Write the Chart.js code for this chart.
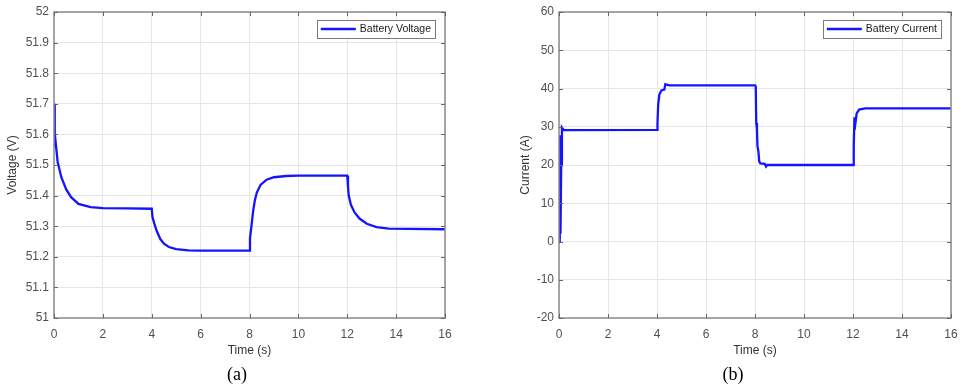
<!DOCTYPE html>
<html>
<head>
<meta charset="utf-8">
<script src="https://cdn.jsdelivr.net/npm/chart.js@4.4.1/dist/chart.umd.min.js"></script>
<style>
  body { margin: 0; background: #fff; width: 963px; height: 391px; position: relative; overflow: hidden; }
  .box { position: absolute; top: 0; height: 391px; }
  .cap { position: absolute; top: 364px; font: 18px "Liberation Serif", "DejaVu Serif", serif; color: #000; transform: translateX(-50%); }
</style>
</head>
<body>
<div class="box" style="left:0;width:480px"><canvas id="voltChart"></canvas></div>
<div class="box" style="left:500px;width:463px"><canvas id="currChart"></canvas></div>
<div class="cap" style="left:237px">(a)</div>
<div class="cap" style="left:733px">(b)</div>
<script>
// 時間軸と値
const timeTicks = [0, 2, 4, 6, 8, 10, 12, 14, 16];

const voltTime = [0, 0.03, 0.06, 0.15, 0.3, 0.5, 0.7, 1.0, 1.5, 2, 3, 4.0,
  4.03, 4.1, 4.2, 4.35, 4.5, 4.7, 5.0, 5.5, 6, 7, 8.0,
  8.02, 8.08, 8.15, 8.22, 8.3, 8.45, 8.7, 9.0, 9.5, 10, 12.0,
  12.03, 12.06, 12.15, 12.3, 12.5, 12.8, 13.2, 13.7, 14.5, 16];
const voltValues = [51.70, 51.56, 51.58, 51.51, 51.46, 51.42, 51.395, 51.373, 51.362, 51.359, 51.358, 51.357,
  51.33, 51.31, 51.285, 51.258, 51.243, 51.232, 51.225, 51.221, 51.22, 51.22, 51.22,
  51.26, 51.30, 51.35, 51.385, 51.41, 51.435, 51.452, 51.46, 51.464, 51.465, 51.465,
  51.43, 51.40, 51.37, 51.345, 51.325, 51.308, 51.297, 51.292, 51.291, 51.29];

const currTime = [0, 0.03, 0.06, 0.09, 0.12, 0.2, 4.0,
  4.02, 4.05, 4.1, 4.18, 4.3, 4.34, 4.5, 8.0,
  8.03, 8.05, 8.08, 8.1, 8.14, 8.17, 8.22, 8.4, 8.45, 8.5, 12.0,
  12.03, 12.06, 12.1, 12.15, 12.25, 12.5, 16];
const currValues = [0, 27.8, 2, 20, 29.8, 29.1, 29.2,
  31, 36, 38.5, 39.5, 39.7, 41.1, 40.8, 40.8,
  40.7, 31, 29.5, 25, 23.5, 21, 20.4, 20.3, 19.6, 20, 20,
  25, 32.5, 31, 33.5, 34.5, 34.8, 34.8];

const voltTicks = [51, 51.1, 51.2, 51.3, 51.4, 51.5, 51.6, 51.7, 51.8, 51.9, 52];
const currTicks = [-20, -10, 0, 10, 20, 30, 40, 50, 60];

const tickFont = { family: "'Liberation Sans', Arial, sans-serif", size: 12 };
const tickColor = "#505050";

// 枠・内向きの目盛り・凡例を描くプラグイン
const framePlugin = {
  id: "frame",
  afterDraw(chart) {
    const { ctx, chartArea: a, scales } = chart;
    ctx.save();
    ctx.strokeStyle = "#8c8c8c";
    ctx.lineWidth = 1.5;
    ctx.strokeRect(a.left, a.top, a.right - a.left, a.bottom - a.top);
    ctx.lineWidth = 1;
    ctx.strokeStyle = "#666";
    ctx.beginPath();
    scales.x.ticks.forEach((t) => {
      const px = Math.round(scales.x.getPixelForValue(t.value)) + 0.5;
      ctx.moveTo(px, a.bottom); ctx.lineTo(px, a.bottom - 4);
      ctx.moveTo(px, a.top); ctx.lineTo(px, a.top + 4);
    });
    scales.y.ticks.forEach((t) => {
      const py = Math.round(scales.y.getPixelForValue(t.value)) + 0.5;
      ctx.moveTo(a.left, py); ctx.lineTo(a.left + 4, py);
      ctx.moveTo(a.right, py); ctx.lineTo(a.right - 4, py);
    });
    ctx.stroke();

    // 凡例
    const label = chart.data.datasets[0].label;
    ctx.font = "10.5px 'Liberation Sans', Arial, sans-serif";
    const tw = ctx.measureText(label).width;
    const w = 4 + 35 + 4 + tw + 4;
    const h = 18;
    const x = a.right - 10 - w;
    const y = a.top + 8;
    ctx.fillStyle = "#fff";
    ctx.fillRect(x, y, w, h);
    ctx.strokeStyle = "#7a7a7a";
    ctx.lineWidth = 1;
    ctx.strokeRect(Math.round(x) + 0.5, Math.round(y) + 0.5, Math.round(w), h);
    ctx.strokeStyle = chart.data.datasets[0].borderColor;
    ctx.lineWidth = 2.3;
    ctx.beginPath();
    ctx.moveTo(x + 4, y + h / 2); ctx.lineTo(x + 39, y + h / 2);
    ctx.stroke();
    ctx.fillStyle = "#1a1a1a";
    ctx.textBaseline = "middle";
    ctx.fillText(label, x + 43, y + h / 2 + 0.5);
    ctx.restore();
  },
};

function makeChart(id, times, values, label, yMin, yMax, yTickList, yTitle, yWidth, titlePad, rightPad) {
  const ctx = document.getElementById(id).getContext("2d");
  return new Chart(ctx, {
    type: "line",
    data: {
      datasets: [{
        label: label,
        data: times.map((t, i) => ({ x: t, y: values[i] })),
        borderColor: "#1414ff",
        borderWidth: 2.3,
        pointRadius: 0,
        tension: 0,
        fill: false,
      }],
    },
    options: {
      responsive: true,
      maintainAspectRatio: false,
      animation: false,
      layout: { padding: { top: 12, right: rightPad, bottom: 33, left: 0 } },
      plugins: { legend: { display: false }, tooltip: { enabled: false } },
      scales: {
        x: {
          type: "linear",
          min: 0, max: 16,
          afterBuildTicks: (s) => { s.ticks = timeTicks.map((v) => ({ value: v })); },
          afterFit: (s) => { s.height = 40; s.paddingLeft = 0; s.paddingRight = 0; },
          grid: { color: "#e6e6e6", drawTicks: false },
          border: { display: false },
          ticks: { font: tickFont, color: tickColor, padding: 9, maxRotation: 0, callback: (v) => String(v) },
          title: { display: true, text: "Time (s)", font: { family: tickFont.family, size: 12 }, color: "#333", padding: 0 },
        },
        y: {
          min: yMin, max: yMax,
          afterBuildTicks: (s) => { s.ticks = yTickList.map((v) => ({ value: v })); },
          afterFit: (s) => { s.width = yWidth; s.paddingTop = 0; s.paddingBottom = 0; },
          grid: { color: "#e6e6e6", drawTicks: false },
          border: { display: false },
          ticks: { font: tickFont, color: tickColor, padding: 5, callback: (v) => String(+v.toFixed(1)) },
          title: { display: true, text: yTitle, font: { family: tickFont.family, size: 12 }, color: "#333", padding: { top: titlePad, bottom: 0 } },
        },
      },
    },
    plugins: [framePlugin],
  });
}

makeChart("voltChart", voltTime, voltValues, "Battery Voltage", 51, 52, voltTicks, "Voltage (V)", 54, 5, 35);
makeChart("currChart", currTime, currValues, "Battery Current", -20, 60, currTicks, "Current (A)", 59, 18, 12);
</script>
</body>
</html>
